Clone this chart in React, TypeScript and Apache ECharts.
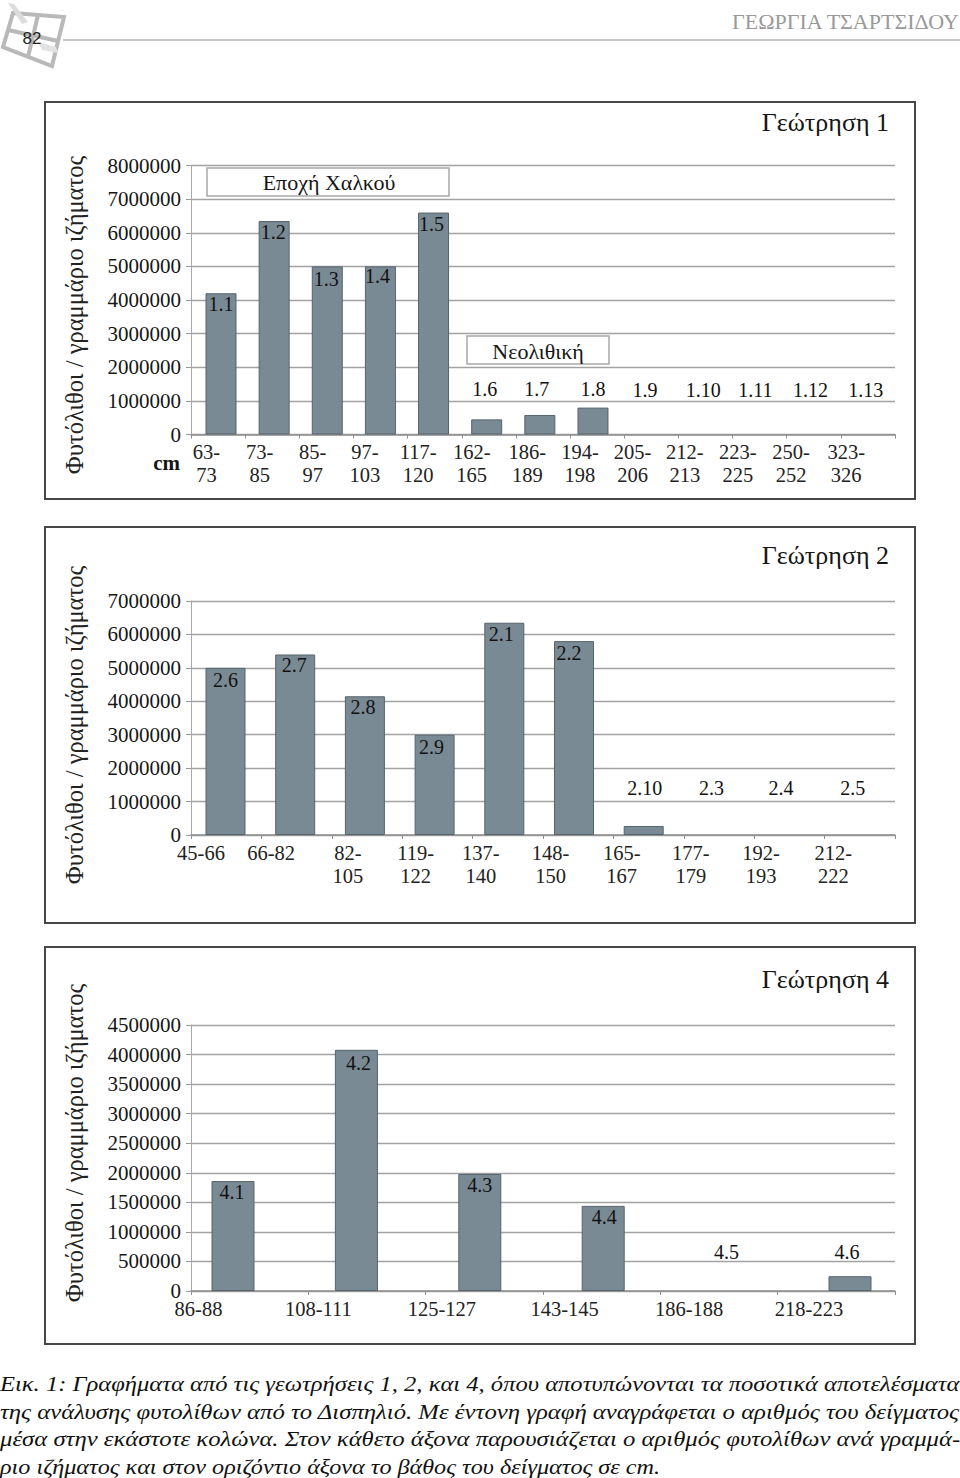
import React, { useEffect, useRef } from "react";
import * as echarts from "echarts";

const SERIF = '"Liberation Serif", serif';
const INK = "#161616";

// Γεώτρηση 1
const cats1 = ["63-\n73", "73-\n85", "85-\n97", "97-\n103", "117-\n120", "162-\n165", "186-\n189", "194-\n198", "205-\n206", "212-\n213", "223-\n225", "250-\n252", "323-\n326"];
const samples1 = ["1.1", "1.2", "1.3", "1.4", "1.5", "1.6", "1.7", "1.8", "1.9", "1.10", "1.11", "1.12", "1.13"];
const values1 = [4200000, 6350000, 5000000, 5000000, 6600000, 450000, 580000, 800000, 0, 0, 0, 0, 0];

// Γεώτρηση 2
const cats2 = ["45-66", "66-82", "82-\n105", "119-\n122", "137-\n140", "148-\n150", "165-\n167", "177-\n179", "192-\n193", "212-\n222"];
const samples2 = ["2.6", "2.7", "2.8", "2.9", "2.1", "2.2", "2.10", "2.3", "2.4", "2.5"];
const values2 = [5000000, 5400000, 4150000, 3000000, 6350000, 5800000, 270000, 0, 0, 0];

// Γεώτρηση 4
const cats3 = ["86-88", "108-111", "125-127", "143-145", "186-188", "218-223"];
const samples3 = ["4.1", "4.2", "4.3", "4.4", "4.5", "4.6"];
const values3 = [1860000, 4080000, 1980000, 1440000, 0, 250000];

const yAxisTitle = "Φυτόλιθοι / γραμμάριο ιζήματος";
const captionLines = [
  "Εικ. 1: Γραφήματα από τις γεωτρήσεις 1, 2, και 4, όπου αποτυπώνονται τα ποσοτικά αποτελέσματα",
  "της ανάλυσης φυτολίθων από το Δισπηλιό. Με έντονη γραφή αναγράφεται ο αριθμός του δείγματος",
  "μέσα στην εκάστοτε κολώνα. Στον κάθετο άξονα παρουσιάζεται ο αριθμός φυτολίθων ανά γραμμά-",
  "ριο ιζήματος και στον οριζόντιο άξονα το βάθος του δείγματος σε cm.",
];

// Layout of the three panels, separate from the data
const panels = [
  {
    title: "Γεώτρηση 1", frameTop: 102, frameH: 397, top: 165.5, bottom: 434.5, max: 8000000, interval: 1000000,
    cats: cats1, samples: samples1, values: values1, titleY: 122, axisTitleY: 315,
    barCenter0: 221, pitch: 53.14, barW: 31,
    labelDx: [0, -1, -1, -3, -2, -2, -3, 0, -1, 4, 3, 5, 7],
    labelDrop: [11, 11, 13, 10, 11, -30, -26, -19, -45, -45, -45, -45, -45],
    textBase: 205, textPad: [3, 3, 3, 1, 1, 2, 7, 6, 5, 3, 3, 3, 7],
  },
  {
    title: "Γεώτρηση 2", frameTop: 527, frameH: 396, top: 601, bottom: 835, max: 7000000, interval: 1000000,
    cats: cats2, samples: samples2, values: values2, titleY: 555, axisTitleY: 725,
    barCenter0: 225.5, pitch: 69.7, barW: 40,
    labelDx: [0, -1, -2, -3, -3, -5, 1, -2, -2, 0],
    labelDrop: [12, 11, 11, 12, 11, 12, -38, -47, -47, -47],
    textBase: 200, textPad: [2, 3, 17, 13, 4, 4, 7, 6, 7, 12],
  },
  {
    title: "Γεώτρηση 4", frameTop: 947, frameH: 397, top: 1025, bottom: 1291, max: 4500000, interval: 500000,
    cats: cats3, samples: samples3, values: values3, titleY: 979, axisTitleY: 1143,
    barCenter0: 233, pitch: 123.4, barW: 43,
    labelDx: [-1, 2, 0, 1, 0, -3],
    labelDrop: [11, 13, 11, 11, -39, -24],
    textBase: 190, textPad: [17, 10, 10, 9, 11, 4],
  },
];

const GRID_L = 191;
const GRID_R = 895;
const GRID_W = GRID_R - GRID_L;

function buildOption() {
  const grid: any[] = [];
  const xAxis: any[] = [];
  const yAxis: any[] = [];
  const series: any[] = [];
  const graphic: any[] = [];

  panels.forEach((p, k) => {
    const height = p.bottom - p.top;
    const n = p.cats.length;
    const barLeft = p.barCenter0 - p.pitch / 2;
    const textLeft = p.textBase - p.pitch / 2;
    const i0 = k * 3;
    // back: y axis, gridlines and x axis ticks
    grid.push({ left: GRID_L, top: p.top, width: GRID_W, height, containLabel: false });
    // middle: bars
    grid.push({ left: barLeft, top: p.top, width: p.pitch * n, height });
    // front: depth labels
    grid.push({ left: textLeft, top: p.top, width: p.pitch * n, height });

    xAxis.push({
      gridIndex: i0, type: "category", data: p.samples,
      axisLine: { show: true, lineStyle: { color: "#8f8f8f", width: 1.5 } },
      axisTick: { show: true, length: 4, lineStyle: { color: "#8f8f8f" } },
      axisLabel: { show: false }, splitLine: { show: false },
    });
    yAxis.push({
      gridIndex: i0, type: "value", min: 0, max: p.max, interval: p.interval,
      axisLine: { show: true, lineStyle: { color: "#a8a8a8", width: 1 } },
      axisTick: { show: true, length: 5, lineStyle: { color: "#999" } },
      axisLabel: {
        show: true, margin: 10, fontFamily: SERIF, fontSize: 21, color: INK,
        formatter: (v: number) => String(v),
      },
      splitLine: { show: true, lineStyle: { color: "#a2a2a2", width: 1.4 } },
    });

    xAxis.push({ gridIndex: i0 + 1, type: "category", data: p.samples, show: false });
    yAxis.push({ gridIndex: i0 + 1, type: "value", min: 0, max: p.max, interval: p.interval, show: false });

    xAxis.push({
      gridIndex: i0 + 2, type: "category",
      data: p.cats.map((c, i) => ({ value: c, textStyle: { padding: [0, 0, 0, p.textPad[i]] } })),
      axisLine: { show: false }, axisTick: { show: false },
      axisLabel: {
        show: true, interval: 0, margin: 6, align: "left", verticalAlign: "top",
        fontFamily: SERIF, fontSize: 20.5, lineHeight: 23, color: "#222",
      },
    });
    yAxis.push({ gridIndex: i0 + 2, type: "value", min: 0, max: p.max, interval: p.interval, show: false });

    series.push({
      type: "bar", xAxisIndex: i0 + 1, yAxisIndex: i0 + 1, barWidth: p.barW, z: 5,
      data: p.values.map((v, i) => ({
        value: v,
        itemStyle: { color: "#7a8a94", borderColor: v === 0 ? "transparent" : "#56636c", borderWidth: v === 0 ? 0 : 1 },
        label: {
          show: true, formatter: p.samples[i], position: "insideTop", distance: 0,
          offset: [p.labelDx[i], p.labelDrop[i] - 10],
          fontFamily: SERIF, fontSize: 20, color: "#111", fontWeight: 500,
        },
      })),
    });

    graphic.push({
      type: "rect", z: -10, shape: { x: 45, y: p.frameTop, width: 870, height: p.frameH },
      style: { fill: "#fff", stroke: "#474747", lineWidth: 2 },
    });
    graphic.push({
      type: "text", z: 50, x: 889, y: p.titleY,
      style: { text: p.title, fontFamily: SERIF, fontSize: 26, fill: INK, align: "right", verticalAlign: "middle" },
    });
    graphic.push({
      type: "text", z: 50, x: 74, y: p.axisTitleY, rotation: Math.PI / 2,
      style: { text: yAxisTitle, fontFamily: SERIF, fontSize: 24.5, fill: "#222", align: "center", verticalAlign: "middle" },
    });
  });

  // era boxes and cm label
  graphic.push({ type: "rect", z: 40, shape: { x: 207, y: 168, width: 242, height: 28 }, style: { fill: "#fff", stroke: "#a8a8a8", lineWidth: 1.5 } });
  graphic.push({ type: "text", z: 50, x: 329, y: 182, style: { text: "Εποχή Χαλκού", fontFamily: SERIF, fontSize: 22, fill: INK, align: "center", verticalAlign: "middle" } });
  graphic.push({ type: "rect", z: 40, shape: { x: 467, y: 336, width: 142, height: 28 }, style: { fill: "#fff", stroke: "#a8a8a8", lineWidth: 1.5 } });
  graphic.push({ type: "text", z: 50, x: 538, y: 351, style: { text: "Νεολιθική", fontFamily: SERIF, fontSize: 22, fill: INK, align: "center", verticalAlign: "middle" } });
  graphic.push({ type: "text", z: 50, x: 180, y: 463, style: { text: "cm", fontFamily: SERIF, fontSize: 21, fontWeight: "bold", fill: INK, align: "right", verticalAlign: "middle" } });

  // page header
  graphic.push({ type: "polygon", z: 1, shape: { points: [[13, 13], [64, 17], [52, 66], [3, 47]] }, style: { fill: "none", stroke: "#b9b9b9", lineWidth: 4 } });
  graphic.push({ type: "line", z: 1, shape: { x1: 38, y1: 15, x2: 28, y2: 57 }, style: { stroke: "#b9b9b9", lineWidth: 4 } });
  graphic.push({ type: "line", z: 1, shape: { x1: 8, y1: 30, x2: 58, y2: 41 }, style: { stroke: "#b9b9b9", lineWidth: 4 } });
  graphic.push({ type: "polygon", z: 2, shape: { points: [[8, 3], [14, 4], [28, 22], [22, 24]] }, style: { fill: "#dcdcdc" } });
  graphic.push({ type: "polygon", z: 2, shape: { points: [[38, 42], [56, 47], [58, 53], [42, 50]] }, style: { fill: "#e2e2e2" } });
  graphic.push({ type: "text", z: 3, x: 32, y: 38, style: { text: "82", fontFamily: '"Liberation Sans", sans-serif', fontSize: 17, fill: "#222", align: "center", verticalAlign: "middle" } });
  graphic.push({ type: "line", z: 1, shape: { x1: 63, y1: 40, x2: 960, y2: 40 }, style: { stroke: "#b4b4b4", lineWidth: 1.5 } });
  graphic.push({ type: "text", z: 3, x: 959, y: 21, style: { text: "ΓΕΩΡΓΙΑ ΤΣΑΡΤΣΙΔΟΥ", fontFamily: SERIF, fontSize: 22, fill: "#999", align: "right", verticalAlign: "middle" } });

  // caption: lines stretched to the justified measure
  const font = `italic 22px ${SERIF}`;
  const ctx = document.createElement("canvas").getContext("2d");
  if (ctx) ctx.font = font;
  const captionY = [1383, 1411, 1438, 1466];
  const captionW = [960, 960, 960, 660];
  captionLines.forEach((text, i) => {
    const w = ctx ? ctx.measureText(text).width : captionW[i];
    graphic.push({
      type: "text", z: 3, x: 0, y: captionY[i], scaleX: captionW[i] / w,
      style: { text, fontFamily: SERIF, fontSize: 22, fontStyle: "italic", fontWeight: 400, fill: "#111", align: "left", verticalAlign: "middle" },
    });
  });

  return { animation: false, backgroundColor: "#fff", tooltip: { show: false }, grid, xAxis, yAxis, series, graphic };
}

export default function App() {
  const ref = useRef<HTMLDivElement>(null);
  useEffect(() => {
    document.body.style.margin = "0";
    const chart = echarts.init(ref.current!, undefined, { renderer: "svg" });
    chart.setOption(buildOption());
    return () => chart.dispose();
  }, []);
  return <div ref={ref} style={{ position: "absolute", left: 0, top: 0, width: 960, height: 1478 }} />;
}
